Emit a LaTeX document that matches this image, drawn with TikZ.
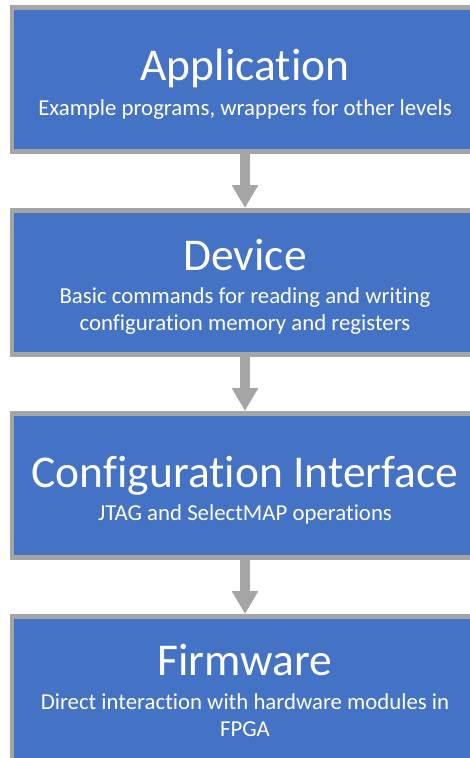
\documentclass[tikz,border=0pt]{standalone}
\usepackage{fontspec}
\setmainfont{Carlito}[Ligatures={NoCommon,NoRare}]
\usetikzlibrary{arrows.meta}
\definecolor{layerblue}{HTML}{4472C4}
\definecolor{layergray}{HTML}{A5A5A5}
\tikzset{
  layer/.style={draw=layergray, line width=4.5pt, fill=layerblue,
    minimum width=466.5pt, minimum height=144pt, inner sep=0pt},
  title/.style={text=white, font=\fontsize{45.5}{54}\selectfont, anchor=base, inner sep=0pt},
  subtitle/.style={text=white, font=\fontsize{22.8}{27}\selectfont, anchor=base, inner sep=0pt},
  flow/.style={draw=layergray, line width=10pt,
    -{Triangle[width=25pt, length=23pt]}}
}
\begin{document}
\begin{tikzpicture}[x=1pt, y=-1pt]
  \useasboundingbox (0,0) rectangle (470,758);

  % the four software layers
  \node[layer] (app) at (245,79.25) {};
  \node[layer] (dev) at (245,282.25) {};
  \node[layer] (cfg) at (245,485.25) {};
  \node[layer] (fw)  at (245,688.25) {};

  % arrows between consecutive layers
  \draw[flow] (app.south) -- (dev.north);
  \draw[flow] (dev.south) -- (cfg.north);
  \draw[flow] (cfg.south) -- (fw.north);

  % layer texts
  \node[title] (appT) at (245,80) {Application};
  \node[subtitle] (appS) at (245,115) {Example programs, wrappers for other levels};

  \node[title] (devT) at (245,270.5) {Device};
  \node[subtitle] (devS1) at (245,303.5) {Basic commands for reading and writing};
  \node[subtitle] (devS2) at (245,330.5) {configuration memory and registers};

  \node[title] (cfgT) at (245,487) {Configuration Interface};
  \node[subtitle] (cfgS) at (245,520) {JTAG and SelectMAP operations};

  \node[title] (fwT) at (245,675) {Firmware};
  \node[subtitle] (fwS1) at (245,709.5) {Direct interaction with hardware modules in};
  \node[subtitle] (fwS2) at (245,736.5) {FPGA};
\end{tikzpicture}
\end{document}
